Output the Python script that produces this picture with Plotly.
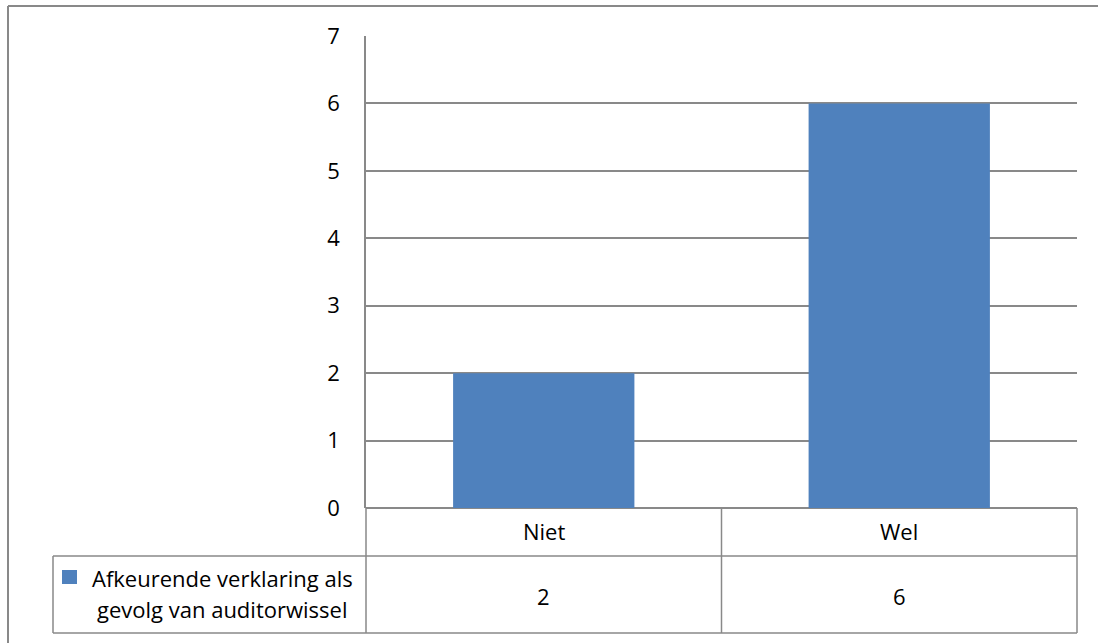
import plotly.graph_objects as go

categories = ["Niet", "Wel"]
values = [2, 6]
series_name = "Afkeurende verklaring als gevolg van auditorwissel"
series_name_lines = ["Afkeurende verklaring als", "gevolg van auditorwissel"]
y_ticks = [0, 1, 2, 3, 4, 5, 6, 7]

W, H = 1098, 643
px0, px1 = 366, 1077   # plot area x (pixels)
py0, py1 = 36, 508     # plot area y top/bottom (pixels)
row1 = 556             # table divider
row2 = 633             # table bottom
leg_left = 53
GRID = "#898989"
FONT = "'Open Sans', sans-serif"
FS = 22
BAR = "#4F81BD"

def X(p):
    return p / W

def Y(p):
    return 1 - p / H

fig = go.Figure()
fig.add_trace(go.Bar(x=categories, y=values, marker_color=BAR, marker_line_width=0,
                     name=series_name, showlegend=False))

shapes = []
def line(x0, y0, x1, y1, color=GRID, w=1.5):
    shapes.append(dict(type="line", xref="paper", yref="paper",
                       x0=X(x0), y0=Y(y0), x1=X(x1), y1=Y(y1),
                       line=dict(color=color, width=w)))

# outer chart border (left & top visible)
line(8, 6, 1100, 6, w=2)
line(8, 6, 8, 645, w=2)
# data table lines
ncat = len(categories)
colw = (px1 - px0) / ncat
line(px0, py1, px0, row2)
for i in range(1, ncat + 1):
    xx = px0 + colw * i
    line(xx, py1, xx, row2)
line(leg_left, row1, px1, row1)
line(leg_left, row2, px1, row2)
line(leg_left, row1, leg_left, row2)
# legend key
shapes.append(dict(type="rect", xref="paper", yref="paper",
                   x0=X(62), x1=X(77), y0=Y(584), y1=Y(570),
                   fillcolor=BAR, line=dict(width=0)))

annotations = []
for i, (c, v) in enumerate(zip(categories, values)):
    cx = px0 + colw * (i + 0.5)
    annotations.append(dict(x=X(cx), y=Y(531), xref="paper", yref="paper",
                            text=c, showarrow=False, xanchor="center", yanchor="middle",
                            font=dict(size=FS, color="black", family=FONT)))
    annotations.append(dict(x=X(cx), y=Y(596), xref="paper", yref="paper",
                            text=str(v), showarrow=False, xanchor="center", yanchor="middle",
                            font=dict(size=FS, color="black", family=FONT)))
for k, txt in enumerate(series_name_lines):
    annotations.append(dict(x=X(222), y=Y(578 + 31 * k), xref="paper", yref="paper",
                            text=txt, showarrow=False, xanchor="center", yanchor="middle",
                            font=dict(size=FS, color="black", family=FONT)))

fig.update_layout(
    width=W, height=H,
    margin=dict(l=0, r=0, t=0, b=0, pad=0, autoexpand=False),
    paper_bgcolor="white", plot_bgcolor="white",
    bargap=0.49,
    showlegend=False,
    shapes=shapes,
    annotations=annotations,
    font=dict(family=FONT, size=FS, color="black"),
    xaxis=dict(domain=[X(px0), X(px1)], showticklabels=False, showgrid=False,
               zeroline=False, showline=False, ticks="", automargin=False),
    yaxis=dict(domain=[Y(py1), Y(py0)], range=[0, 7], tickvals=y_ticks,
               showgrid=True, gridcolor=GRID, gridwidth=1.5,
               zeroline=True, zerolinecolor=GRID, zerolinewidth=1.5,
               showline=True, linecolor=GRID, linewidth=1.5,
               ticks="", ticklabelstandoff=20, automargin=False,
               tickfont=dict(size=FS, color="black", family=FONT)),
)

fig.write_html("out.html")
